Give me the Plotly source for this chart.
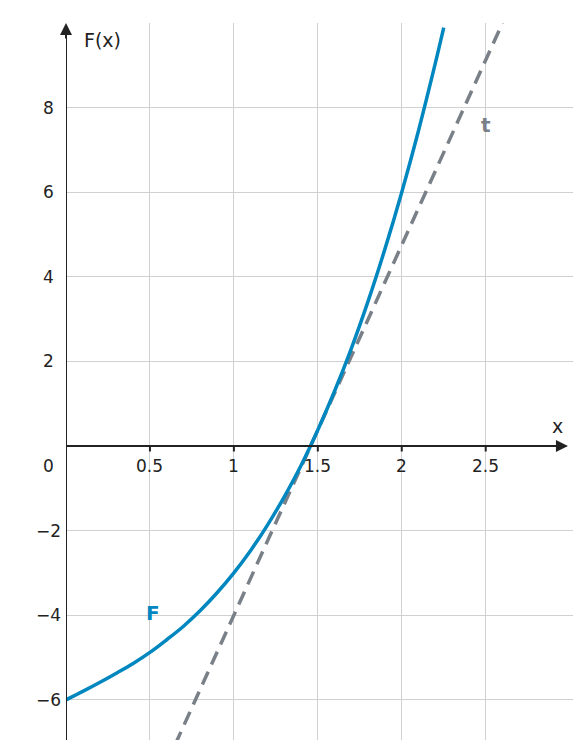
import plotly.graph_objects as go

# Curve F
fx = [0, 0.1, 0.2, 0.3, 0.4, 0.5, 0.6, 0.7, 0.8, 0.9, 1.0, 1.1, 1.2, 1.3, 1.4, 1.5, 1.6, 1.7, 1.8, 1.9, 2.0, 2.1, 2.2, 2.25]
fy = [-6, -5.8, -5.59, -5.37, -5.14, -4.88, -4.58, -4.26, -3.89, -3.47, -3.0, -2.47, -1.87, -1.2, -0.46, 0.38, 1.3, 2.31, 3.43, 4.66, 6.0, 7.46, 9.05, 9.89]
# Tangent t
tx = [0.65, 2.6]
ty = [-7.06, 10.0]

xticks = [0.5, 1, 1.5, 2, 2.5]
xlabels = ["0.5", "1", "1.5", "2", "2.5"]
yticks = [-6, -4, -2, 2, 4, 6, 8]
ylabels = ["\u22126", "\u22124", "\u22122", "2", "4", "6", "8"]

blue = "#0087bf"
gray = "#7a8088"
txt = "#222222"
fig = go.Figure()
fig.add_trace(go.Scatter(x=tx, y=ty, mode="lines", line=dict(color=gray, width=3.5, dash="14px,8px")))
fig.add_trace(go.Scatter(x=fx, y=fy, mode="lines", line=dict(color=blue, width=3.5, shape="spline")))

ann = []
for v, l in zip(xticks, xlabels):
    ann.append(dict(x=v, y=0, yshift=-20, text=l, showarrow=False))
for v, l in zip(yticks, ylabels):
    ann.append(dict(x=0, y=v, xshift=-18, text=l, showarrow=False, xanchor="center"))
ann += [
    dict(x=0, y=0, xshift=-18, yshift=-20, text="0", showarrow=False),
    dict(x=2.93, y=0, yshift=20, text="x", showarrow=False, font=dict(size=19)),
    dict(x=0.22, y=9.6, text="F(x)", showarrow=False, font=dict(size=19)),
    dict(x=0.52, y=-3.95, text="<b>F</b>", showarrow=False, font=dict(size=20, color=blue)),
    dict(x=2.5, y=7.6, text="<b>t</b>", showarrow=False, font=dict(size=20, color=gray)),
    dict(x=2.99, y=0, ax=2.9, ay=0, axref="x", ayref="y", showarrow=True, arrowhead=2, arrowsize=1.2, arrowwidth=2, arrowcolor=txt, text=""),
    dict(x=0, y=10, ax=0, ay=9.6, axref="x", ayref="y", showarrow=True, arrowhead=2, arrowsize=1.2, arrowwidth=2, arrowcolor=txt, text=""),
]
shapes = [
    dict(type="line", x0=0, x1=2.98, y0=0, y1=0, line=dict(color=txt, width=2)),
    dict(type="line", x0=0, x1=0, y0=-7, y1=9.9, line=dict(color=txt, width=2)),
]
for v in xticks:
    shapes.append(dict(type="line", xref="x", yref="y", x0=v, x1=v, y0=-0.13, y1=0.0, line=dict(color=txt, width=2)))
for v in yticks:
    shapes.append(dict(type="line", x0=-0.025, x1=0, y0=v, y1=v, line=dict(color=txt, width=2)))

fig.update_layout(
    width=582, height=752, margin=dict(l=58, r=17, t=15, b=20, autoexpand=False),
    plot_bgcolor="white", paper_bgcolor="white", showlegend=False,
    font=dict(family="DejaVu Sans", size=17, color=txt),
    xaxis=dict(range=[0, 3.02], tickvals=xticks, showticklabels=False, showgrid=True, gridcolor="#d0d0d0", gridwidth=1.3, zeroline=False),
    yaxis=dict(range=[-6.95, 10], tickvals=yticks, showticklabels=False, showgrid=True, gridcolor="#d0d0d0", gridwidth=1.3, zeroline=False),
    annotations=ann, shapes=shapes,
)
fig.write_html("out.html")
